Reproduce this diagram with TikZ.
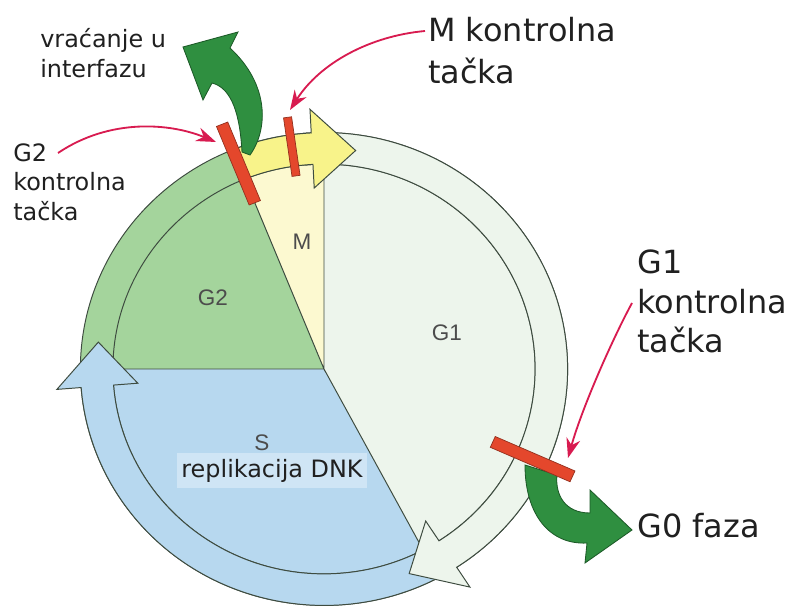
\documentclass[tikz,border=0pt]{standalone}
\usepackage{fontspec}
\setmainfont{DejaVu Sans}
\newfontfamily\phasefont{Liberation Sans}
\usetikzlibrary{arrows.meta}
\definecolor{gtwogreen}{HTML}{A4D49C}
\definecolor{mcream}{HTML}{FCF9D0}
\definecolor{mbright}{HTML}{F8F38A}
\definecolor{gonepale}{HTML}{EDF5EC}
\definecolor{sblue}{HTML}{B7D8EF}
\definecolor{sbox}{HTML}{CFE5F5}
\definecolor{ringline}{HTML}{3E4C40}
\definecolor{checkred}{HTML}{E4472C}
\definecolor{checkdark}{HTML}{93301E}
\definecolor{exitgreen}{HTML}{2F8F40}
\definecolor{exitdark}{HTML}{1D5A28}
\definecolor{pointer}{HTML}{D81B50}
\definecolor{labeltext}{HTML}{202020}

\begin{document}
\begin{tikzpicture}[x=0.025cm, y=0.025cm,
    wheel/.style={shift={(324,239)}, xscale=1.015, yscale=0.985},
    ring/.style={draw=ringline, line width=0.7pt},
    checkbar/.style={fill=checkred, draw=checkdark, line width=0.5pt},
    exitarrow/.style={fill=exitgreen, draw=exitdark, line width=0.6pt},
    pointto/.style={draw=pointer, line width=1.3pt, -{Stealth[length=14pt, width=10pt]}},
    biglabel/.style={inner sep=0pt, align=left, text=labeltext, font=\fontsize{22.7}{30}\selectfont},
    smalllabel/.style={inner sep=0pt, align=left, text=labeltext, font=\fontsize{17}{21.3}\selectfont},
    phaselabel/.style={inner sep=0pt, text=labeltext!80, font=\phasefont\fontsize{16}{18}\selectfont}]

\useasboundingbox (0,0) rectangle (792,608);

% cycle wheel
\begin{scope}[wheel]
  % phase sectors
  \fill[mcream] (0,0) -- (90:240) arc[start angle=90, end angle=112, radius=240] -- cycle;
  \fill[gtwogreen] (0,0) -- (112:240) arc[start angle=112, end angle=180, radius=240] -- cycle;
  \fill[sblue] (0,0) -- (180:240) arc[start angle=180, end angle=298, radius=240] -- cycle;
  \fill[gonepale] (0,0) -- (-62:240) arc[start angle=-62, end angle=90, radius=240] -- cycle;
  \draw[ring] (0,0) circle[radius=240];
  \draw[ring] (0,0) circle[radius=208];
  \draw[ring] (90:208) -- (0,0) -- (112:208) (180:208) -- (0,0) -- (-62:208);

  % S arrow
  \draw[ring, fill=sblue] (-58:240) arc[start angle=-58, end angle=-175.5, radius=240]
    -- (-175.5:264) -- (-187:224) -- (-175.5:184) -- (-175.5:208)
    arc[start angle=-175.5, end angle=-58, radius=208] -- cycle;
  % G1 arrow
  \draw[ring, fill=gonepale] (95:240) arc[start angle=95, end angle=-57, radius=240]
    -- (-57:264) -- (-68:224) -- (-57:184) -- (-57:208)
    arc[start angle=-57, end angle=95, radius=208] -- cycle;
  % M arrow
  \draw[ring, fill=mbright] (113:240) arc[start angle=113, end angle=93, radius=240]
    -- (93:264) -- (82:224) -- (93:184) -- (93:208)
    arc[start angle=93, end angle=113, radius=208] -- cycle;
\end{scope}

% exits from the cycle
\draw[exitarrow] (250,453) .. controls (268,478) and (270,523) .. (230,560)
  -- (238,576) -- (183,561) -- (203,508) -- (212,525)
  .. controls (232,520) and (240,493) .. (242,456) -- cycle;
\draw[exitarrow] (525,143) .. controls (525,93) and (550,63) .. (587,65)
  -- (585,45) -- (632,78) -- (590,118) -- (590,95)
  .. controls (565,95) and (555,113) .. (557,133) -- cycle;

% checkpoints
\begin{scope}[wheel]
  \draw[checkbar, rotate=112] (182,-6) rectangle (268,6);
  \draw[checkbar, rotate=98] (198,-4) rectangle (258,4);
  \draw[checkbar, rotate=-24] (182,-6) rectangle (268,6);
\end{scope}

% labels
\node[smalllabel, anchor=north west] (backlbl) at (40,580) {vraćanje u\\interfazu};
\node[smalllabel, anchor=north west] (gtwolbl) at (13,465) {G2\\kontrolna\\tačka};
\node[biglabel, anchor=north west] (mlbl) at (428,591) {M kontrolna\\tačka};
\node[biglabel, anchor=north west, font=\fontsize{22.7}{28}\selectfont] (gonelbl) at (637,358) {G1\\kontrolna\\tačka};
\node[biglabel, anchor=base west] (gzerolbl) at (637,71) {G0 faza};

\node[phaselabel] (mname) at (302,366) {M};
\node[phaselabel] (gtwoname) at (213,310) {G2};
\node[phaselabel] (gonename) at (447,275) {G1};
\node[phaselabel] (sname) at (262,165) {S};
\node[smalllabel, fill=sbox, inner xsep=3pt, inner ysep=4pt, anchor=base] (dnalbl) at (272,131) {replikacija DNK};

% pointers to the checkpoints
\coordinate (gtwofrom) at (58,455);
\coordinate (gtwotip) at (216,466);
\draw[pointto] (gtwofrom) .. controls (110,490) and (170,485) .. (gtwotip);
\coordinate (mfrom) at (425,577);
\coordinate (mtip) at (290,498);
\draw[pointto] (mfrom) .. controls (370,572) and (320,545) .. (mtip);
\coordinate (gonefrom) at (632,305);
\coordinate (gonetip) at (568,150);
\draw[pointto] (gonefrom) .. controls (612,268) and (582,200) .. (gonetip);
\end{tikzpicture}
\end{document}
